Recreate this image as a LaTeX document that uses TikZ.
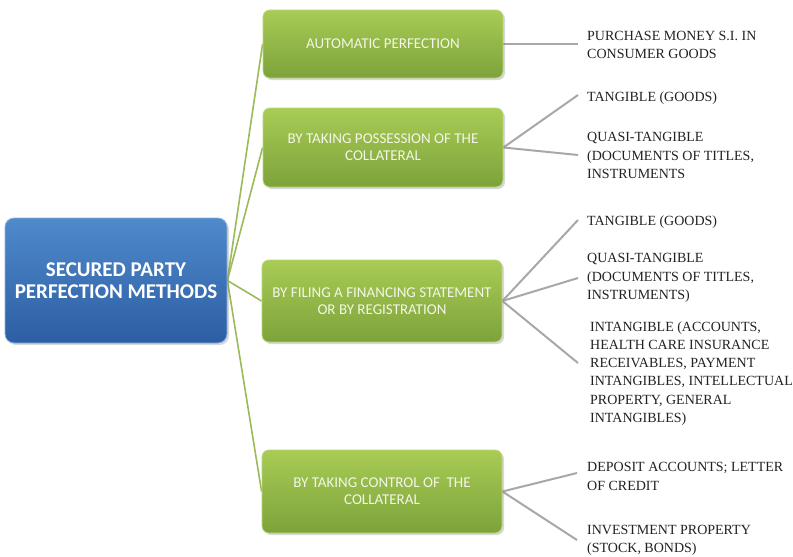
\documentclass[tikz,border=0pt]{standalone}
\usepackage{fontspec}
\setmainfont{Liberation Serif}
\newfontfamily\boxfont{Carlito}
\usetikzlibrary{shadows,backgrounds}

\definecolor{hubtop}{HTML}{4F8ACB}
\definecolor{hubbot}{HTML}{2C5EA3}
\definecolor{hubedge}{HTML}{8EB2DE}
\definecolor{leaftop}{HTML}{A8CC55}
\definecolor{leafbot}{HTML}{7DA23A}
\definecolor{leafedge}{HTML}{B9D77A}
\definecolor{leaftext}{HTML}{F3F6E8}
\definecolor{greenlink}{HTML}{9BBB59}
\definecolor{greylink}{HTML}{A8A8A8}
\definecolor{itemtext}{HTML}{222222}

\begin{document}
\begin{tikzpicture}[x=1pt,y=-1pt,
  hub/.style={rounded corners=9pt, top color=hubtop, bottom color=hubbot,
    draw=hubedge, line width=0.8pt, text=white,
    font=\boxfont\bfseries\fontsize{21}{22.5}\selectfont, align=center,
    minimum width=222pt, minimum height=125pt, inner sep=0pt,
    drop shadow={opacity=0.3, shadow xshift=2pt, shadow yshift=-2pt}},
  method/.style={rounded corners=7pt, top color=leaftop, bottom color=leafbot,
    draw=leafedge, line width=0.8pt, text=leaftext,
    font=\boxfont\fontsize{15}{17}\selectfont, align=center,
    minimum width=240pt, inner sep=0pt,
    drop shadow={opacity=0.3, shadow xshift=2pt, shadow yshift=-2pt}},
  item/.style={anchor=west, align=left, inner sep=0pt, text=itemtext,
    font=\fontsize{14}{18.2}\selectfont},
  trunk/.style={draw=greenlink, line width=1.6pt},
  twig/.style={draw=greylink, line width=2pt}]

\useasboundingbox (0,0) rectangle (793,557);

% central topic
\node[hub] (hub) at (116,280.5) {SECURED PARTY\\PERFECTION METHODS};

% perfection methods
\node[method, minimum height=68pt] (m1) at (383,44) {AUTOMATIC PERFECTION};
\node[method, minimum height=79pt] (m2) at (383,147.5) {BY TAKING POSSESSION OF THE\\COLLATERAL};
\node[method, minimum height=82pt] (m3) at (382,301) {BY FILING A FINANCING STATEMENT\\OR BY REGISTRATION};
\node[method, minimum height=83pt] (m4) at (382,491.5) {BY TAKING CONTROL OF\ \ THE\\COLLATERAL};

% collateral types
\node[item] (a1) at (587,45) {PURCHASE MONEY S.I. IN\\CONSUMER GOODS};
\node[item] (b1) at (587,98) {TANGIBLE (GOODS)};
\node[item] (b2) at (587,155.5) {QUASI-TANGIBLE\\(DOCUMENTS OF TITLES,\\INSTRUMENTS};
\node[item] (c1) at (587,222) {TANGIBLE (GOODS)};
\node[item] (c2) at (587,278) {QUASI-TANGIBLE\\(DOCUMENTS OF TITLES,\\INSTRUMENTS)};
\node[item] (c3) at (590,373.5) {INTANGIBLE (ACCOUNTS,\\HEALTH CARE INSURANCE\\RECEIVABLES, PAYMENT\\INTANGIBLES, INTELLECTUAL\\PROPERTY, GENERAL\\INTANGIBLES)};
\node[item] (d1) at (587,476.5) {DEPOSIT ACCOUNTS; LETTER\\OF CREDIT};
\node[item] (d2) at (587,540) {INVESTMENT PROPERTY\\(STOCK, BONDS)};

% line ends next to the collateral texts
\coordinate (ea1) at (578,44);
\coordinate (eb1) at (578,95);
\coordinate (eb2) at (578,155);
\coordinate (ec1) at (578,220);
\coordinate (ec2) at (578,278);
\coordinate (ec3) at (578,363);
\coordinate (ed1) at (577,473);
\coordinate (ed2) at (577,540);

\begin{scope}[on background layer]
  \fill[white] (0,0) rectangle (793,557);
  \foreach \m in {m1,m2,m3,m4} \draw[trunk] (hub.east) -- (\m.west);
  \draw[twig] (m1.east) -- (ea1);
  \draw[twig] (m2.east) -- (eb1);
  \draw[twig] (m2.east) -- (eb2);
  \draw[twig] (m3.east) -- (ec1);
  \draw[twig] (m3.east) -- (ec2);
  \draw[twig] (m3.east) -- (ec3);
  \draw[twig] (m4.east) -- (ed1);
  \draw[twig] (m4.east) -- (ed2);
\end{scope}
\end{tikzpicture}
\end{document}
